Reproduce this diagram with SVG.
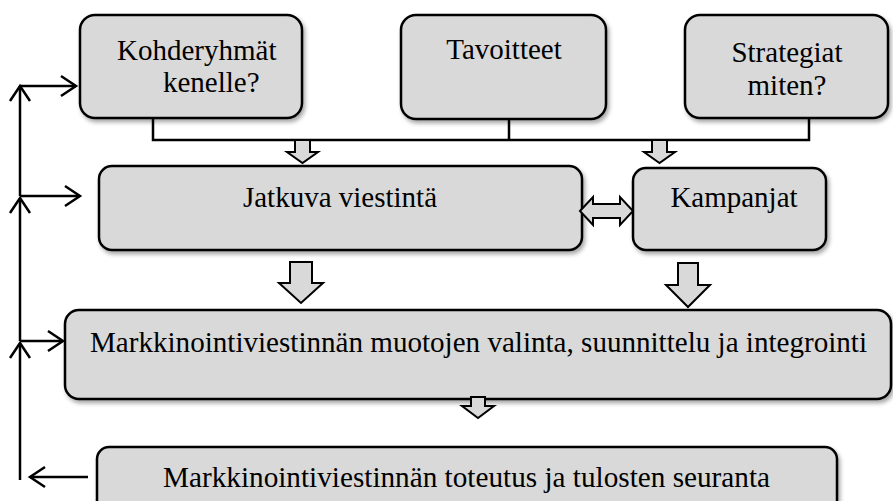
<svg xmlns="http://www.w3.org/2000/svg" width="893" height="501" viewBox="0 0 893 501">
<defs>
<filter id="sh" x="-10%" y="-10%" width="120%" height="130%">
<feDropShadow dx="2" dy="3" stdDeviation="2" flood-color="#000" flood-opacity="0.35"/>
</filter>
<marker id="open" markerWidth="20" markerHeight="24" refX="17" refY="12" orient="auto" markerUnits="userSpaceOnUse">
<path d="M2,2 L17,12 L2,22" fill="none" stroke="#000" stroke-width="2.5"/>
</marker>
</defs>
<style>
.box{fill:#d9d9d9;stroke:#000;stroke-width:2.5;filter:url(#sh)}
.t{font-family:"Liberation Serif","Times New Roman",serif;font-size:29px;fill:#000}
.ln{fill:none;stroke:#000;stroke-width:2.5}
.ha{fill:#d9d9d9;stroke:#000;stroke-width:2;stroke-linejoin:miter}
</style>
<g id="kohderyhmat">
<rect class="box" x="80" y="15" width="222" height="103" rx="15"/>
<text class="t" x="117" y="60">Kohderyhmät</text>
<text class="t" x="163" y="92">kenelle?</text>
</g>
<g id="tavoitteet">
<rect class="box" x="401" y="15" width="205" height="104" rx="15"/>
<text class="t" x="504" y="59" text-anchor="middle">Tavoitteet</text>
</g>
<g id="strategiat">
<rect class="box" x="685" y="15" width="203" height="103" rx="15"/>
<text class="t" x="787" y="62" text-anchor="middle">Strategiat</text>
<text class="t" x="787" y="95" text-anchor="middle">miten?</text>
</g>
<g id="jatkuva">
<rect class="box" x="99" y="166" width="483" height="84" rx="13"/>
<text class="t" x="340" y="207" text-anchor="middle">Jatkuva viestintä</text>
</g>
<g id="kampanjat">
<rect class="box" x="633" y="168" width="193" height="82" rx="13"/>
<text class="t" x="734" y="207" text-anchor="middle">Kampanjat</text>
</g>
<g id="valinta">
<rect class="box" x="65" y="310" width="826" height="89" rx="14"/>
<text class="t" x="90" y="352" textLength="777" lengthAdjust="spacingAndGlyphs">Markkinointiviestinnän muotojen valinta, suunnittelu ja integrointi</text>
</g>
<g id="toteutus">
<rect class="box" x="97" y="447" width="740" height="70" rx="12"/>
<text class="t" x="163" y="487" textLength="607" lengthAdjust="spacingAndGlyphs">Markkinointiviestinnän toteutus ja tulosten seuranta</text>
</g>
<g id="connectors">
<path class="ln" d="M153,118 V140 H809 V118 M509,119 V140" stroke-width="2"/>
<path class="ha" d="M295,140 H310 V152 H318 L302.5,163 L287,152 H295 Z"/>
<path class="ha" d="M652,140 H667 V152 H675 L659.5,163 L644,152 H652 Z"/>
<path class="ha" d="M290,262 H312 V283 H323 L301,303 L279,283 H290 Z"/>
<path class="ha" d="M678,263 H698 V285 H710 L688,307 L666,285 H678 Z"/>
<path class="ha" d="M471,397 H485 V406 H494 L478,418 L462,406 H471 Z"/>
<path class="ha" d="M580,211 L593,197 V204 H620 V197 L633,211 L620,225 V218 H593 V225 Z"/>
<path class="ln" d="M88,477 H30" marker-end="url(#open)"/>
<path class="ln" d="M20,480 V343" marker-end="url(#open)"/>
<path class="ln" d="M20,341 H63" marker-end="url(#open)"/>
<path class="ln" d="M20,341 V198" marker-end="url(#open)"/>
<path class="ln" d="M20,196 H80" marker-end="url(#open)"/>
<path class="ln" d="M20,196 V86" marker-end="url(#open)"/>
<path class="ln" d="M20,86 H76" marker-end="url(#open)"/>
</g>
</svg>
